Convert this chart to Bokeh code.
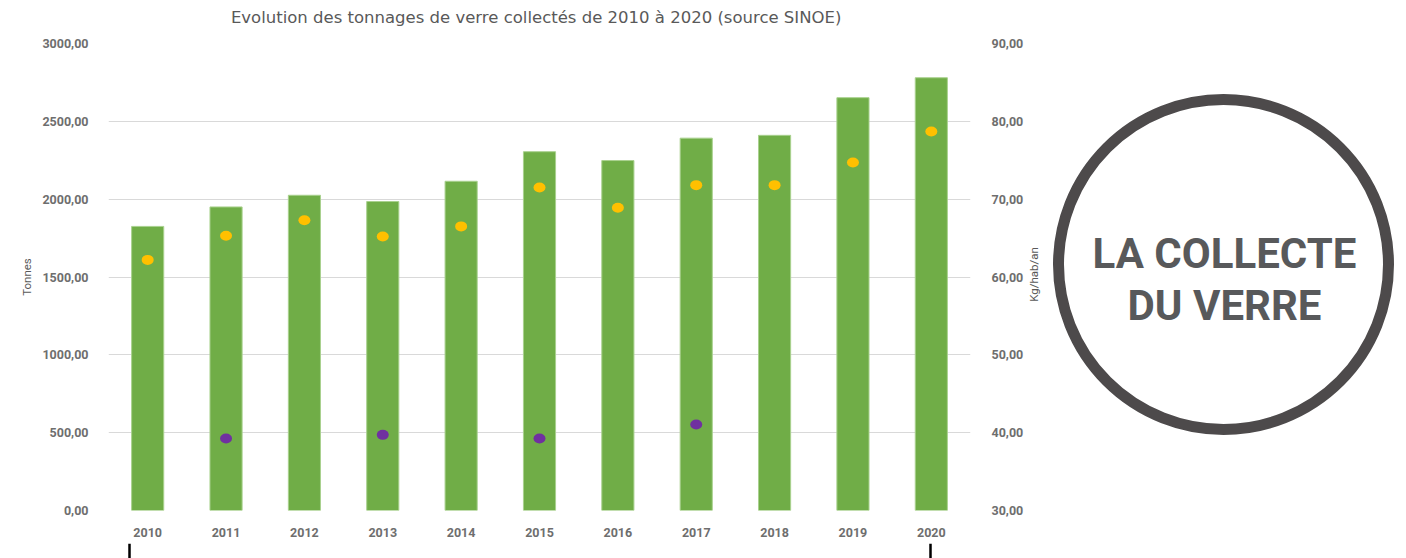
import math
from bokeh.plotting import figure
from bokeh.models import Range1d, LinearAxis, CustomJSTickFormatter, FixedTicker
from bokeh.layouts import row, column
from bokeh.embed import file_html
from bokeh.resources import INLINE
from bokeh.core.properties import value

years = ["2010", "2011", "2012", "2013", "2014", "2015", "2016", "2017", "2018", "2019", "2020"]
tonnes = [1825, 1950, 2025, 1985, 2115, 2305, 2248, 2392, 2410, 2652, 2780]
kg_hab = [62.2, 65.3, 67.3, 65.2, 66.5, 71.5, 68.9, 71.8, 71.8, 74.7, 78.7]
purple_years = ["2011", "2013", "2015", "2017"]
purple_tonnes = [462, 486, 462, 552]
left_ticks = [0, 500, 1000, 1500, 2000, 2500, 3000]
right_ticks = [30, 40, 50, 60, 70, 80, 90]
title_text = "Evolution des tonnages de verre collectés de 2010 à 2020 (source SINOE)"
right_label = "Kg/hab/an"
circle_lines = ["LA COLLECTE", "DU VERRE"]

FONT = "Roboto"
GREY = "#595959"

W1 = 1026
TH = 30

def blank(fig):
    fig.axis.visible = False
    fig.grid.visible = False
    fig.outline_line_color = None
    return fig

# title strip
tf = blank(figure(width=W1, height=TH, x_range=Range1d(0, W1), y_range=Range1d(0, TH),
                  output_backend="svg", toolbar_location=None, min_border=0))
tf.text(x=[509], y=[TH - 17], text=[title_text], text_align="center", text_baseline="middle",
        text_font=value("DejaVu Sans"), text_font_size="16.5px", text_color=GREY)

p = figure(x_range=years, y_range=Range1d(0, 3000), width=W1, height=543 - TH,
           output_backend="svg", toolbar_location=None,
           min_border_left=108, min_border_right=W1 - 970, min_border_top=43 - TH,
           min_border_bottom=33)
p.x_range.range_padding = 0
p.extra_y_ranges = {"kg": Range1d(30, 90)}

p.vbar(x=years, top=tonnes, width=0.41, fill_color="#70AD47", line_color="#A9D18E", line_width=1)
p.ellipse(x=years, y=kg_hab, width=12, height=10, width_units="screen", height_units="screen",
          fill_color="#FFC000", line_color=None, y_range_name="kg")
p.ellipse(x=purple_years, y=purple_tonnes, width=12, height=10, width_units="screen",
          height_units="screen", fill_color="#7030A0", line_color=None)

fmt = CustomJSTickFormatter(code="return tick.toFixed(2).replace('.', ',');")

ya = p.yaxis[0]
ya.ticker = FixedTicker(ticks=left_ticks)
ya.formatter = fmt
ya.axis_label = "Tonnes"

ra = LinearAxis(y_range_name="kg", ticker=FixedTicker(ticks=right_ticks), formatter=fmt)
p.add_layout(ra, "right")

for ax in [ya, ra, p.xaxis[0]]:
    ax.axis_line_color = None
    ax.major_tick_line_color = None
    ax.minor_tick_line_color = None
    ax.major_label_text_font = FONT
    ax.major_label_text_font_size = "12.5px"
    ax.major_label_text_font_style = "bold"
    ax.major_label_text_color = "#6E6E6E"
    ax.axis_label_text_font = "Roboto"
    ax.axis_label_text_font_size = "11.5px"
    ax.axis_label_text_font_style = "normal"
    ax.axis_label_text_color = GREY
ya.major_label_standoff = 14
ra.major_label_standoff = 15
p.xaxis[0].major_label_standoff = 11
ya.axis_label_standoff = 5

p.xgrid.grid_line_color = None
p.ygrid.ticker = FixedTicker(ticks=left_ticks)
p.ygrid.grid_line_color = "#D9D9D9"
p.outline_line_color = None

# right side: axis title + circle badge
W2 = 1406 - W1
HC = 543
c = blank(figure(width=W2, height=HC, x_range=Range1d(0, W2), y_range=Range1d(0, HC),
                 output_backend="svg", toolbar_location=None, min_border=0))
c.text(x=[1033 - W1], y=[HC - 274], text=[right_label], angle=math.pi / 2, text_align="center",
       text_baseline="middle", text_font=value("Roboto"), text_font_size="11.5px",
       text_color=GREY)
c.circle(x=[1223 - W1], y=[HC - 264], radius=165, fill_color=None, line_color="#4D4A4B", line_width=11)
c.text(x=[1224 - W1, 1224 - W1], y=[HC - 253, HC - 305], text=circle_lines, text_align="center",
       text_baseline="middle", text_font=value("Roboto"), text_font_size="42px",
       text_font_style="bold", text_color="#58595B")

# bottom marks
m = blank(figure(width=W1, height=15, x_range=Range1d(0, W1), y_range=Range1d(0, 15),
                 output_backend="svg", toolbar_location=None, min_border=0))
m.segment(x0=[129, 930], y0=[0, 0], x1=[129, 930], y1=[15, 15], line_color="black", line_width=2.5)

layout = column(row(column(tf, p), c), m)
open("out.html", "w").write(file_html(layout, INLINE))
